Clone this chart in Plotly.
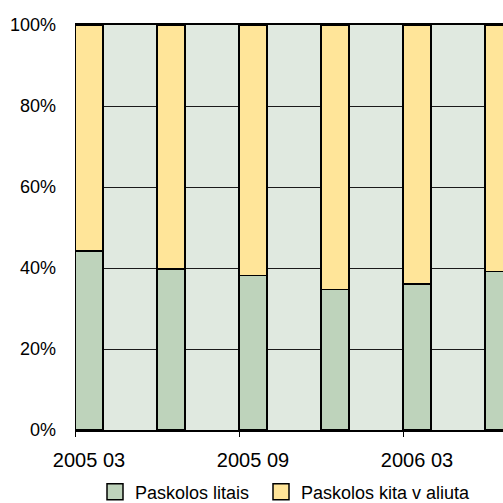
import plotly.graph_objects as go

# Quarterly periods (every other one is labelled on the axis)
periods = ["2005 03", "2005 06", "2005 09", "2005 12", "2006 03", "2006 06"]
litais_share = [44.2, 39.8, 38.2, 34.7, 36.1, 39.1]
kita_share = [round(100 - v, 1) for v in litais_share]

series_names = ["Paskolos litais", "Paskolos kita v aliuta"]
series_colors = ["#BED3BB", "#FFE599"]

tick_positions = [0, 2, 4]
tick_labels = [periods[i] for i in tick_positions]

x_pos = list(range(len(periods)))

font = dict(family="Liberation Sans, Arial, sans-serif", size=18, color="black")

fig = go.Figure()
for vals, name, color in zip([litais_share, kita_share], series_names, series_colors):
    fig.add_trace(go.Bar(
        x=x_pos, y=vals, name=name, showlegend=False,
        offset=0, width=0.34,
        marker=dict(color=color, line=dict(color="black", width=1.5)),
    ))

# Legend entries with larger square swatches, one legend box per series
for name, color, leg in zip(series_names, series_colors, ["legend", "legend2"]):
    fig.add_trace(go.Scatter(
        x=[None], y=[None], mode="markers", name=name, legend=leg,
        marker=dict(symbol="square", size=16, color=color,
                    line=dict(color="black", width=1.5)),
    ))

legend_common = dict(
    orientation="h", xanchor="left",
    yref="container", y=0.022, yanchor="middle",
    font=font, itemwidth=30, bgcolor="rgba(0,0,0,0)",
)

fig.update_layout(
    width=503, height=503,
    margin=dict(l=75, r=0, t=25, b=73, autoexpand=False),
    barmode="stack",
    plot_bgcolor="#E0E9E0",
    paper_bgcolor="white",
    font=font,
    showlegend=True,
    legend=dict(x=(95 - 75) / 428, **legend_common),
    legend2=dict(x=(261 - 75) / 428, **legend_common),
    xaxis=dict(
        range=[0, 428 / 82],
        tickvals=tick_positions, ticktext=tick_labels,
        tickfont=dict(size=20),
        ticks="outside", ticklen=5, tickcolor="black", tickwidth=1,
        ticklabelshift=14, ticklabelstandoff=6,
        showgrid=False, zeroline=False, automargin=False,
        showline=True, mirror=True, linecolor="black", linewidth=2,
    ),
    yaxis=dict(
        range=[0, 100], dtick=20, ticksuffix="%",
        showgrid=True, gridcolor="#1a1a1a", gridwidth=1,
        zeroline=False, showline=False, automargin=False,
        ticks="", ticklabelstandoff=18,
    ),
)

fig.write_html("out.html")
